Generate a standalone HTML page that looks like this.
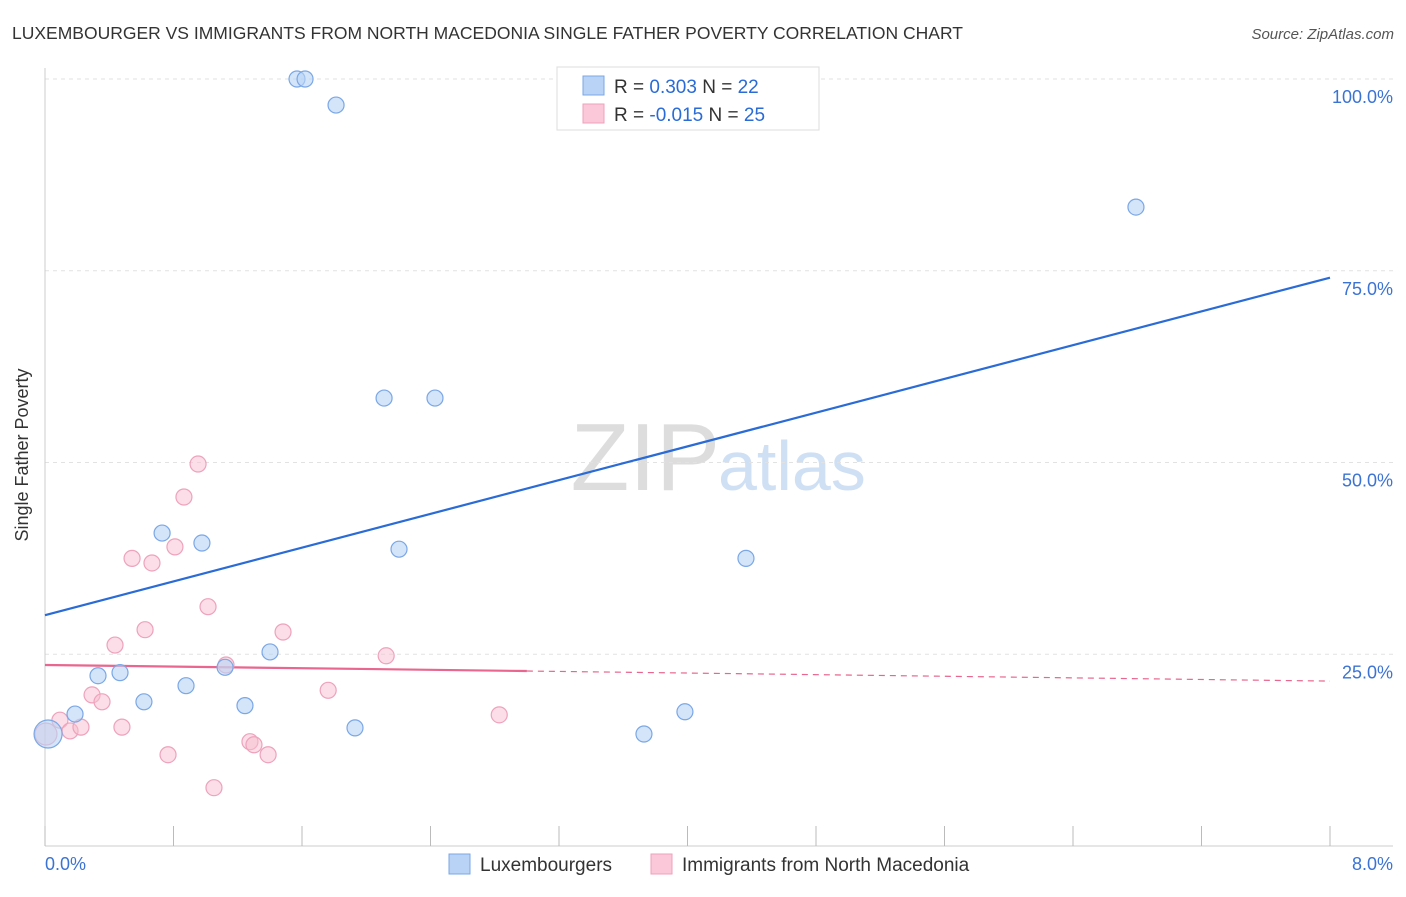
<!DOCTYPE html>
<html><head><meta charset="utf-8"><style>
body{margin:0;background:#fff;font-family:"Liberation Sans",sans-serif;}
svg text{font-family:"Liberation Sans",sans-serif;}
</style></head><body>
<svg id="chart" width="1406" height="892">
<text x="12" y="39" font-size="17.5" fill="#333">LUXEMBOURGER VS IMMIGRANTS FROM NORTH MACEDONIA SINGLE FATHER POVERTY CORRELATION CHART</text>
<text x="1394" y="39" font-size="15" fill="#555" text-anchor="end" font-style="italic">Source: ZipAtlas.com</text>
<text x="720" y="490" font-size="96" fill="#ddd" text-anchor="end" font-family="Liberation Serif">ZIP</text>
<text x="718" y="490" font-size="70" fill="#cfe0f5">atlas</text>
<g id="grid"></g>
<g id="axes"></g>
<g id="lines"></g>
<g id="points"></g>
<text x="28" y="455" font-size="18" fill="#333" text-anchor="middle" transform="rotate(-90 28 455)">Single Father Poverty</text>
<text x="45" y="870" font-size="18" fill="#3b73d4">0.0%</text>
<text x="1393" y="870" font-size="18" fill="#3b73d4" text-anchor="end">8.0%</text>
<g>
<rect x="557" y="67" width="262" height="63" fill="#fff" stroke="#ddd"/>
<rect x="583" y="76" width="21" height="19" fill="#b8d3f5" stroke="#7aa7e6"/>
<rect x="583" y="104" width="21" height="19" fill="#fac8d8" stroke="#eea2bb"/>
<text x="614" y="93" font-size="19" fill="#333">R = <tspan fill="#2a6bd6"> 0.303</tspan>   N = <tspan fill="#2a6bd6">22</tspan></text>
<text x="614" y="121" font-size="19" fill="#333">R = <tspan fill="#2a6bd6">-0.015</tspan>   N = <tspan fill="#2a6bd6">25</tspan></text>
</g>
<g>
<rect x="449" y="854" width="21" height="20" fill="#b8d3f5" stroke="#7aa7e6"/>
<text x="480" y="871" font-size="19" fill="#333">Luxembourgers</text>
<rect x="651" y="854" width="21" height="20" fill="#fac8d8" stroke="#eea2bb"/>
<text x="682" y="871" font-size="19" fill="#333">Immigrants from North Macedonia</text>
</g>
</svg>
<script>
const yTicks=[25,50,75,100];
const yTickLabels=["25.0%","50.0%","75.0%","100.0%"];
const xTicks=[0,0.8,1.6,2.4,3.2,4.0,4.8,5.6,6.4,7.2,8.0];
const luxX=[0.019,0.187,0.330,0.467,0.616,0.729,0.878,0.977,1.121,1.245,1.401,1.569,1.619,1.812,1.930,2.111,2.204,2.428,3.729,3.984,4.364,6.792];
const luxY=[14.6,17.2,22.2,22.6,18.8,40.8,20.9,39.5,23.3,18.3,25.3,100,100,96.6,15.4,58.4,38.7,58.4,14.6,17.5,37.5,83.3];
const macX=[0.006,0.093,0.156,0.224,0.293,0.355,0.436,0.479,0.542,0.623,0.666,0.766,0.809,0.865,0.953,1.015,1.052,1.127,1.276,1.301,1.389,1.482,1.763,2.124,2.828];
const macY=[14.6,16.4,15.0,15.5,19.7,18.8,26.2,15.5,37.5,28.2,36.9,11.9,39.0,45.5,49.8,31.2,7.6,23.6,13.6,13.2,11.9,27.9,20.3,24.8,17.1];
const luxTrend=[30.1,74.1];
const macTrend=[23.6,21.5];
const macSolidEnd=3.0;
const X=v=>45+v*1285/8, Y=v=>846-v*7.67;
const NS="http://www.w3.org/2000/svg";
function mk(p,t,a){const e=document.createElementNS(NS,t);for(const k in a)e.setAttribute(k,a[k]);p.appendChild(e);return e;}
const grid=document.getElementById('grid'),axes=document.getElementById('axes'),lines=document.getElementById('lines'),pts=document.getElementById('points');
yTicks.forEach((t,i)=>{
 const g=mk(grid,'line',{x1:45,x2:1393,y1:Y(t),y2:Y(t),stroke:'#e2e2e2','stroke-dasharray':'4 4'});
 
 
 const l=mk(axes,'text',{x:1393,y:Y(t)+24,'font-size':18,fill:'#3b73d4','text-anchor':'end'});
 l.textContent=yTickLabels[i];
 
 
});
const ya=mk(axes,'line',{x1:45,x2:45,y1:68,y2:846,stroke:'#ccc'});


const xa=mk(axes,'line',{x1:45,x2:1393,y1:846,y2:846,stroke:'#ccc'});


xTicks.forEach(t=>{
 const k=mk(axes,'line',{x1:X(t),x2:X(t),y1:826,y2:846,stroke:'#bbb'});
 
 
});
const bl=mk(lines,'line',{x1:X(0),y1:Y(luxTrend[0]),x2:X(8),y2:Y(luxTrend[1]),stroke:'#2a6bd6','stroke-width':2.2});


const py=x=>macTrend[0]+(macTrend[1]-macTrend[0])*x/8;
const pl=mk(lines,'line',{x1:X(0),y1:Y(py(0)),x2:X(macSolidEnd),y2:Y(py(macSolidEnd)),stroke:'#e8668f','stroke-width':2.2});


const pd=mk(lines,'line',{x1:X(macSolidEnd),y1:Y(py(macSolidEnd)),x2:X(8),y2:Y(py(8)),stroke:'#e8668f','stroke-width':1.2,'stroke-dasharray':'6 5'});


macX.forEach((x,i)=>{
 const c=mk(pts,'circle',{cx:X(x),cy:Y(macY[i]),r:i==0?11:8,fill:'rgba(248,190,208,0.5)',stroke:'#eea2bb','stroke-width':1.2});
 
 
});
luxX.forEach((x,i)=>{
 const c=mk(pts,'circle',{cx:X(x),cy:Y(luxY[i]),r:i==0?14:8,fill:'rgba(184,211,245,0.6)',stroke:'#7aa7e6','stroke-width':1.2});
 
 
});
</script>
</body></html>
